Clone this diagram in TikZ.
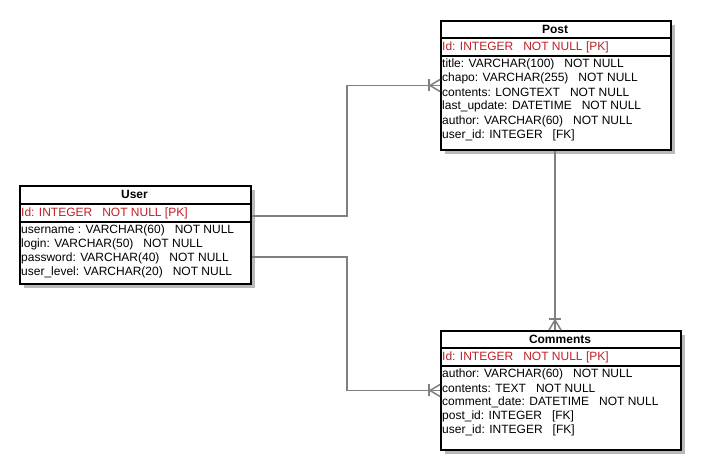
\documentclass[tikz,border=0pt]{standalone}
\usepackage{fontspec}
\setmainfont{Liberation Sans}
\usetikzlibrary{positioning,shadows,calc}
\definecolor{pkred}{RGB}{192,32,38}
\definecolor{linkgray}{RGB}{128,128,128}
\definecolor{shadegray}{RGB}{185,185,185}
\newcommand{\gp}{~~~}
\newcommand{\tablefont}{\fontsize{12}{14}\selectfont}
% crow's foot (one-to-many end) at #1, turned by #2
\newcommand{\manyend}[2]{%
    \begin{scope}[shift={(#1)}, rotate=#2]
        \draw[link] (-11pt,-6pt) -- (-11pt,6pt);
        \draw[link] (0pt,6pt) -- (-10pt,0pt) -- (0pt,-6pt);
    \end{scope}}

\tikzset{
    tablebox/.style={draw, line width=2pt, fill=white, inner sep=0pt, anchor=north west,
        drop shadow={shadow xshift=4pt, shadow yshift=-4pt, fill=shadegray, opacity=1}},
    sepline/.style={line width=2pt},
    header/.style={font=\tablefont\bfseries},
    pkrow/.style={text=pkred, anchor=west, inner sep=0pt},
    fieldrow/.style={anchor=west, inner sep=0pt},
    link/.style={draw=linkgray, line width=1.5pt},
}

\begin{document}
\begin{tikzpicture}[x=1pt, y=-1pt, font=\tablefont]
    \useasboundingbox (0,0) rectangle (702,470);

    % tables
    \node[tablebox, minimum width=230pt, minimum height=129pt] (post) at (440,20) {};
    \draw[sepline] (440,38) -- (670,38) (440,56) -- (670,56);
    \node[header] (post-title) at (555,29) {Post};
    \node[pkrow] (post-pk) at (442,47) {Id: INTEGER\gp NOT NULL [PK]};
    \foreach \f [count=\i] in {{title: VARCHAR(100)\gp NOT NULL},
            {chapo: VARCHAR(255)\gp NOT NULL},
            {contents: LONGTEXT\gp NOT NULL},
            {last\_update: DATETIME\gp NOT NULL},
            {author: VARCHAR(60)\gp NOT NULL},
            {user\_id: INTEGER\gp [FK]}} {
        \node[fieldrow] (post-f\i) at (442,{50+14.2*\i}) {\f};
    }

    \node[tablebox, minimum width=231pt, minimum height=98pt] (user) at (19,185) {};
    \draw[sepline] (19,204) -- (250,204) (19,222) -- (250,222);
    \node[header] (user-title) at (134.5,194) {User};
    \node[pkrow] (user-pk) at (21,213) {Id: INTEGER\gp NOT NULL [PK]};
    \foreach \f [count=\i] in {{username : VARCHAR(60)\gp NOT NULL},
            {login: VARCHAR(50)\gp NOT NULL},
            {password: VARCHAR(40)\gp NOT NULL},
            {user\_level: VARCHAR(20)\gp NOT NULL}} {
        \node[fieldrow] (user-f\i) at (21,{217+13.8*\i}) {\f};
    }

    \node[tablebox, minimum width=240pt, minimum height=119pt] (comments) at (440,330) {};
    \draw[sepline] (440,348) -- (680,348) (440,366) -- (680,366);
    \node[header] (comments-title) at (560,339) {Comments};
    \node[pkrow] (comments-pk) at (442,357) {Id: INTEGER\gp NOT NULL [PK]};
    \foreach \f [count=\i] in {{author: VARCHAR(60)\gp NOT NULL},
            {contents: TEXT\gp NOT NULL},
            {comment\_date: DATETIME\gp NOT NULL},
            {post\_id: INTEGER\gp [FK]},
            {user\_id: INTEGER\gp [FK]}} {
        \node[fieldrow] (comments-f\i) at (442,{360+14*\i}) {\f};
    }

    % relations
    \draw[link] ([yshift=19pt]user.east) -- ++(95,0) |- (post.west);
    \manyend{post.west}{0}
    \draw[link] ([yshift=-22pt]user.east) -- ++(95,0) |- (comments.west);
    \manyend{comments.west}{0}
    \draw[link] ([xshift=-1pt]post.south) -- ([xshift=-1pt]post.south |- comments.north);
    \manyend{[xshift=-1pt]post.south |- comments.north}{-90}
\end{tikzpicture}
\end{document}
